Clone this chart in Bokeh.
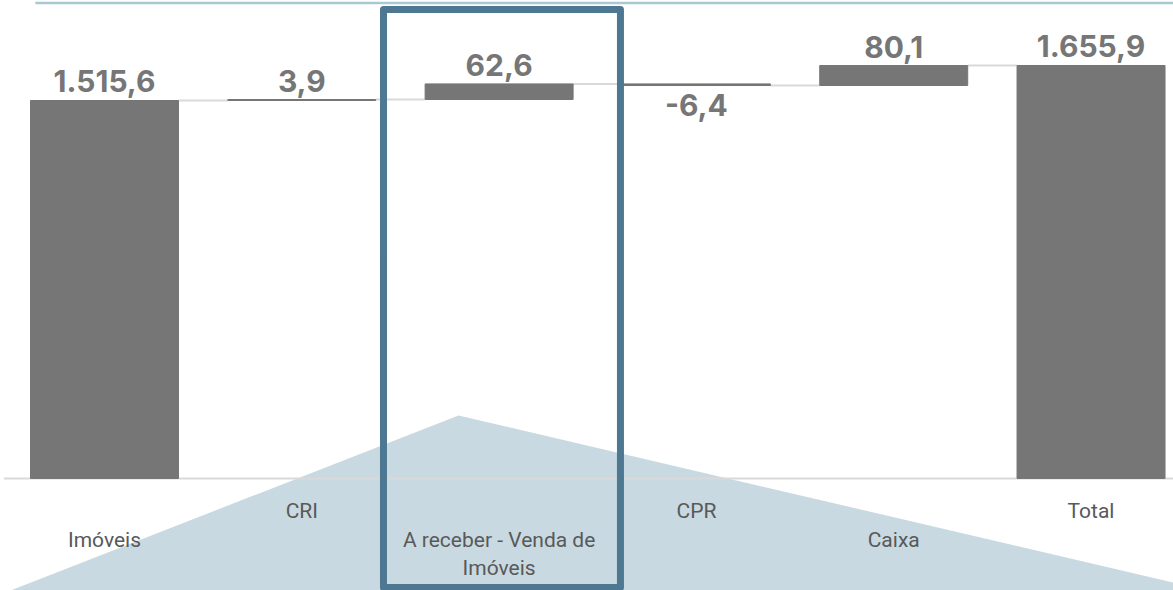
from bokeh.plotting import figure
from bokeh.models import Range1d, ColumnDataSource
from bokeh.core.properties import value
from bokeh.embed import file_html
from bokeh.resources import INLINE

# ---------------- data ----------------
categories = ["Imóveis", "CRI", "A receber - Venda de\nImóveis", "CPR", "Caixa", "Total"]
values = [1515.6, 3.9, 62.6, -6.4, 80.1, 1655.9]
value_labels = ["1.515,6", "3,9", "62,6", "-6,4", "80,1", "1.655,9"]
is_total = [True, False, False, False, False, True]
highlight_index = 2

# ---------------- waterfall geometry ----------------
n = len(categories)
xs = list(range(n))
bottoms, tops, ends = [], [], []
running = 0.0
for v, tot in zip(values, is_total):
    if tot:
        bottoms.append(0.0)
        tops.append(v)
        running = v
    else:
        start = running
        running = running + v
        bottoms.append(min(start, running))
        tops.append(max(start, running))
    ends.append(running)

BAR_W = 0.75
GRAY = "#767676"

p = figure(width=1173, height=590, output_backend="svg", toolbar_location=None,
           x_axis_location=None, y_axis_location=None,
           x_range=Range1d(-0.5271, 5.418), y_range=Range1d(-449.1, 1916.5),
           min_border=0, min_border_left=0, min_border_right=0,
           min_border_top=0, min_border_bottom=0)
p.grid.visible = False
p.outline_line_color = None
p.background_fill_color = "white"

# background triangle decoration
p.patch(x=[-0.476, 1.794, 5.59], y=[-449.1, 252.6, -449.1],
        fill_color="#c8d9e1", line_color=None)

# baseline
p.segment(x0=[-0.51], y0=[0], x1=[5.5], y1=[0], line_color="#d9d9d9", line_width=2)

# top thin line
p.segment(x0=[-0.35], y0=[1906.5], x1=[5.5], y1=[1906.5], line_color="#a8c8d4", line_width=2.5)

# connectors
cx0 = [i + BAR_W / 2 for i in xs[:-1]]
cx1 = [i + 1 - BAR_W / 2 for i in xs[:-1]]
cy = ends[:-1]
p.segment(x0=cx0, y0=cy, x1=cx1, y1=cy, line_color="#d9d9d9", line_width=2)

# bars
src = ColumnDataSource(dict(x=xs, bottom=bottoms, top=tops))
p.vbar(x="x", width=BAR_W, bottom="bottom", top="top", source=src,
       fill_color=GRAY, line_color=GRAY, line_width=1)

# value labels
pos_x, pos_y, pos_t, neg_x, neg_y, neg_t = [], [], [], [], [], []
for i, v in enumerate(values):
    if v >= 0:
        pos_x.append(i); pos_y.append(tops[i]); pos_t.append(value_labels[i])
    else:
        neg_x.append(i); neg_y.append(bottoms[i]); neg_t.append(value_labels[i])
p.text(x=pos_x, y=pos_y, text=pos_t, text_align="center", text_baseline="alphabetic",
       y_offset=-19, text_font=value("Inter"), text_font_style="bold",
       text_font_size="30px", text_color=GRAY)
p.text(x=neg_x, y=neg_y, text=neg_t, text_align="center", text_baseline="alphabetic",
       y_offset=20, text_font=value("Inter"), text_font_style="bold",
       text_font_size="30px", text_color=GRAY)

# category labels (staggered like the original)
cat_offsets = [50 if i % 2 == 0 else 21 for i in xs]
p.text(x=xs, y=[0] * n, text=categories, y_offset=cat_offsets,
       text_align="center", text_baseline="top", text_font=value("Roboto"),
       text_font_size="21px", text_color="#595959", text_line_height=1.15)

# highlight box around a category
p.quad(left=[highlight_index - 0.586], right=[highlight_index + 0.615],
       top=[1880], bottom=[-437], fill_color=None,
       line_color="#4e7791", line_width=7, line_join="round")

open("out.html", "w").write(file_html(p, INLINE))
